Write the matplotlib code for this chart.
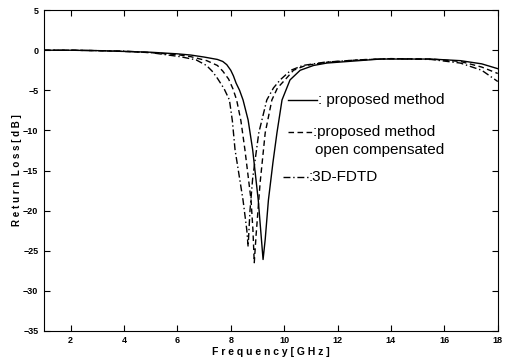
import matplotlib
matplotlib.use("Agg")
import matplotlib.pyplot as plt

plt.rcParams['font.family'] = ['Liberation Sans', 'DejaVu Sans']

# proposed method (solid)
f_s = [1, 2, 3, 4, 5, 6, 6.5, 7, 7.5, 7.7, 7.85, 8.0, 8.1, 8.2, 8.33, 8.46, 8.65, 8.82, 9.03, 9.12, 9.21,
       9.29, 9.41, 9.58, 9.73, 9.92, 10.22, 10.6, 11.1, 11.6, 12.4, 13.6, 15.5, 16.6, 17.4, 18]
db_s = [0, 0, -0.05, -0.15, -0.25, -0.45, -0.6, -0.85, -1.15, -1.4, -1.8, -2.5, -3.2, -4.1, -5.0, -6.2, -8.7,
        -12.4, -18.7, -22.4, -26.1,
        -23.6, -18.7, -14, -10.3, -6.2, -3.7, -2.5, -1.9, -1.6, -1.4, -1.1, -1.1, -1.3, -1.7, -2.3]

# proposed method, open compensated (dashed)
f_d = [1, 2, 3, 4, 5, 6, 6.5, 7.1, 7.5, 7.7, 7.92, 8.08, 8.22, 8.38, 8.53, 8.76, 8.83, 8.88,
       8.95, 9.1, 9.29, 9.54, 9.75, 10.03, 10.35, 10.8, 11.6, 12.8, 14, 15.5, 16.6, 17.4, 18]
db_d = [0, 0, -0.05, -0.15, -0.3, -0.55, -0.8, -1.3, -1.9, -2.6, -3.6, -4.8, -6.2, -8.8, -12.4, -18.7, -22.4,
        -26.5, -23, -16.5, -10.3, -6.2, -4.7, -3.7, -2.5, -1.9, -1.5, -1.2, -1.05, -1.1, -1.4, -2.1, -2.9]

# 3D-FDTD (dash-dot)
f_c = [1, 2, 3, 4, 5, 6.1, 6.7, 7.09, 7.3, 7.5, 7.75, 7.95, 8.06, 8.16, 8.46, 8.6, 8.65,
       8.72, 8.82, 9.05, 9.35, 9.6, 9.85, 10.25, 10.7, 11.5, 12.8, 14, 15.5, 16.6, 17.4, 18]
db_c = [0, 0, -0.05, -0.1, -0.3, -0.8, -1.2, -1.9, -2.6, -3.5, -4.8, -6.2, -8.8, -12.4, -18.7, -22.4,
        -24.5, -20, -16, -10.3, -6.2, -4.7, -3.7, -2.5, -1.9, -1.5, -1.2, -1.05, -1.15, -1.6, -2.5, -3.9]

xticks = [2, 4, 6, 8, 10, 12, 14, 16, 18]
yticks = [5, 0, -5, -10, -15, -20, -25, -30, -35]

fig = plt.figure(figsize=(5.1, 3.62), dpi=100)
ax = fig.add_axes([0.086, 0.086, 0.89, 0.886])

solid = "-"
dashed = (0, (4, 2.5))
dashdot = (0, (5, 2, 1, 2))

ax.plot(f_s, db_s, color="black", lw=1.0, ls=solid)
ax.plot(f_d, db_d, color="black", lw=1.0, ls=dashed)
ax.plot(f_c, db_c, color="black", lw=1.0, ls=dashdot)

ax.set_xlim(1, 18)
ax.set_ylim(-35, 5)
ax.set_xticks(xticks)
ax.set_yticks(yticks)
ax.tick_params(direction="in", top=True, right=True, length=4, labelsize=6.5, pad=4)
for lab in ax.get_xticklabels() + ax.get_yticklabels():
    lab.set_fontweight("bold")

ax.set_xlabel("F r e q u e n c y [ G H z ]", fontsize=7.5, fontweight="bold", labelpad=1)
ax.set_ylabel("R e t u r n  L o s s [ d B ]", fontsize=7, fontweight="bold", labelpad=1)

# hand-drawn legend inside the axes
ax.plot([10.15, 11.24], [-6.2, -6.2], color="black", lw=1.0, ls=solid)
ax.text(11.26, -6.2, ": proposed method", fontsize=11, va="center")
ax.plot([10.15, 11.05], [-10.2, -10.2], color="black", lw=1.0, ls=dashed)
ax.text(11.07, -10.2, ":proposed method", fontsize=11, va="center")
ax.text(11.15, -12.4, "open compensated", fontsize=11, va="center")
ax.plot([9.96, 10.9], [-15.8, -15.8], color="black", lw=1.0, ls=dashdot)
ax.text(10.92, -15.8, ":3D-FDTD", fontsize=11, va="center")

fig.savefig("out.png", dpi=100)
